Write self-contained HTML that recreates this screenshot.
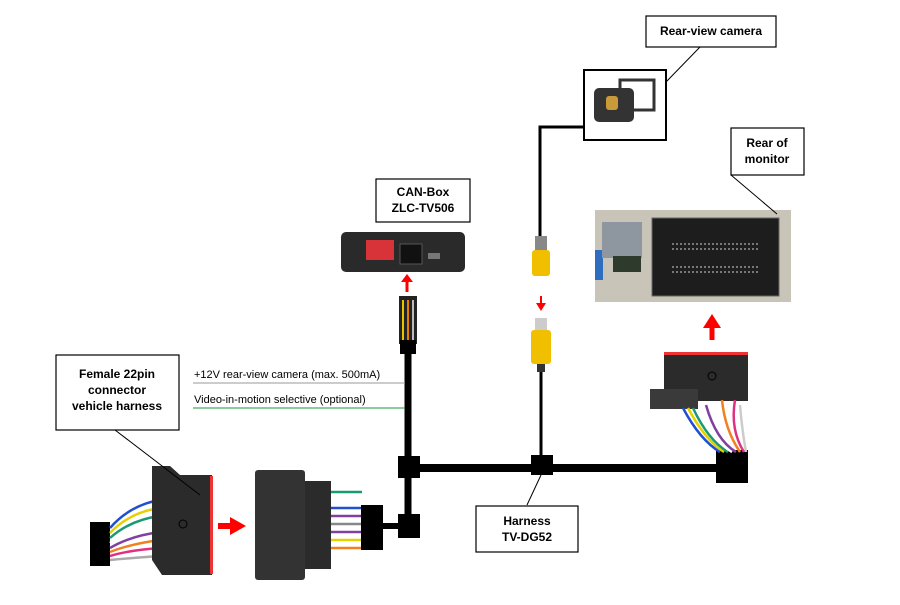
<!DOCTYPE html>
<html><head><style>
body{margin:0;background:#fff;width:900px;height:600px;overflow:hidden;font-family:"Liberation Sans",sans-serif}
</style></head><body>
<svg width="900" height="600" viewBox="0 0 900 600" xmlns="http://www.w3.org/2000/svg" font-family="Liberation Sans, sans-serif">
<!-- cables -->
<g stroke="#000" fill="none">
<path d="M403 468 H720" stroke-width="8"/>
<path d="M408 340 V530" stroke-width="7"/>
<path d="M380 526 H410" stroke-width="6"/>
<path d="M541 462 V372" stroke-width="3"/>
<path d="M584 127 H540 V240" stroke-width="3"/>
</g>
<rect x="398" y="456" width="22" height="22" fill="#000"/>
<rect x="398" y="514" width="22" height="24" fill="#000"/>
<rect x="531" y="455" width="22" height="20" fill="#000"/>
<rect x="716" y="450" width="32" height="33" fill="#000"/>
<!-- CAN box -->
<rect x="341" y="232" width="124" height="40" rx="5" fill="#2a2a2a"/>
<rect x="366" y="240" width="28" height="20" fill="#d9333a"/>
<rect x="400" y="244" width="22" height="20" fill="#111" stroke="#555"/>
<rect x="428" y="253" width="12" height="6" fill="#777"/>
<path d="M407 292 V281" stroke="#f00" stroke-width="3"/><path d="M401 282 L407 274 L413 282Z" fill="#f00"/>
<rect x="399" y="296" width="18" height="48" fill="#222"/>
<g stroke-width="2"><path d="M403 300V340" stroke="#e5c300"/><path d="M408 300V340" stroke="#e57e00"/><path d="M413 300V340" stroke="#bbb"/></g>
<rect x="400" y="340" width="16" height="14" fill="#000"/>
<!-- camera -->
<rect x="584" y="70" width="82" height="70" fill="#fff" stroke="#000" stroke-width="2"/>
<rect x="594" y="88" width="40" height="34" rx="5" fill="#333"/>
<rect x="606" y="96" width="12" height="14" rx="3" fill="#c89a3a"/>
<rect x="620" y="80" width="34" height="30" fill="none" stroke="#333" stroke-width="3"/>
<path d="M666 82 L700 47" stroke="#000"/>
<!-- RCA -->
<rect x="535" y="236" width="12" height="14" fill="#888"/>
<rect x="532" y="250" width="18" height="26" rx="3" fill="#f0c000"/>
<path d="M541 296 V304" stroke="#f00" stroke-width="2"/><path d="M536 303 L541 311 L546 303Z" fill="#f00"/>
<rect x="535" y="318" width="12" height="14" fill="#ccc"/>
<rect x="531" y="330" width="20" height="34" rx="3" fill="#f0c000"/>
<rect x="537" y="364" width="8" height="8" fill="#333"/>
<!-- monitor -->
<rect x="595" y="210" width="196" height="92" fill="#c9c4b8"/>
<rect x="595" y="250" width="8" height="30" fill="#2f6dc0"/>
<rect x="602" y="222" width="40" height="36" fill="#8e969f"/>
<rect x="613" y="256" width="28" height="16" fill="#2e3a2c"/>
<rect x="652" y="218" width="127" height="78" fill="#1d1d1d" stroke="#666"/>
<g fill="none" stroke="#777" stroke-dasharray="2 2" stroke-width="2"><path d="M672 244H760M672 249H760M672 267H760M672 272H760"/></g>
<path d="M731 175 L777 214" stroke="#000"/>
<path d="M712 340 V326" stroke="#f00" stroke-width="5"/><path d="M703 328 L712 314 L721 328Z" fill="#f00"/>
<!-- right connector -->
<rect x="664" y="352" width="84" height="4" fill="#e33"/>
<rect x="664" y="355" width="84" height="46" fill="#2b2b2b"/>
<rect x="650" y="389" width="48" height="20" fill="#3a3a3a"/>
<g stroke-width="2.5" fill="none">
<path d="M683 408 Q700 440 720 452" stroke="#2050d0"/><path d="M688 408 Q705 440 724 452" stroke="#e5d000"/>
<path d="M693 408 Q708 440 728 452" stroke="#1a9a70"/><path d="M700 408 Q712 440 732 452" stroke="#fff"/>
<path d="M706 405 Q716 440 736 452" stroke="#8040a0"/><path d="M722 400 Q725 430 740 452" stroke="#f08020"/>
<path d="M735 400 Q730 430 744 452" stroke="#e03080"/><path d="M740 405 Q742 430 746 452" stroke="#ccc"/>
</g>
<circle cx="712" cy="376" r="4" fill="none" stroke="#000"/>
<!-- left connectors -->
<rect x="90" y="522" width="20" height="44" fill="#000"/>
<g stroke-width="2.5" fill="none">
<path d="M110 528 Q130 505 160 500" stroke="#2050d0"/><path d="M110 533 Q130 512 160 508" stroke="#e5d000"/>
<path d="M110 538 Q130 520 160 516" stroke="#1a9a70"/><path d="M110 543 Q130 528 160 524" stroke="#fff"/>
<path d="M110 548 Q130 536 160 532" stroke="#8040a0"/><path d="M110 552 Q130 544 160 540" stroke="#f08020"/>
<path d="M110 556 Q130 550 160 548" stroke="#e03080"/><path d="M110 560 Q130 558 160 556" stroke="#aaa"/>
</g>
<path d="M152 466 H170 L180 475 H212 V575 H162 L152 560Z" fill="#2b2b2b"/>
<rect x="210" y="476" width="3" height="98" fill="#e33"/>
<circle cx="183" cy="524" r="4" fill="none" stroke="#000"/>
<path d="M218 526 H232" stroke="#f00" stroke-width="6"/><path d="M230 517 L246 526 L230 535Z" fill="#f00"/>
<rect x="255" y="470" width="50" height="110" rx="3" fill="#333"/>
<rect x="305" y="481" width="26" height="88" fill="#2b2b2b"/>
<g stroke-width="2.5"><path d="M331 492 H362" stroke="#1a9a70"/><path d="M331 500 H362" stroke="#fff"/><path d="M331 508 H362" stroke="#2050d0"/><path d="M331 516 H362" stroke="#8040a0"/><path d="M331 524 H362" stroke="#888"/><path d="M331 532 H362" stroke="#8040a0"/><path d="M331 540 H362" stroke="#e5d000"/><path d="M331 548 H362" stroke="#f08020"/></g>
<rect x="361" y="505" width="22" height="45" fill="#000"/>
<!-- label lines -->
<path d="M115 430 L200 495" stroke="#000"/>
<path d="M527 505 L541 475" stroke="#000"/>
<path d="M193 383 H405" stroke="#999"/>
<path d="M193 408 H405" stroke="#1a9a3a"/>
<text x="194" y="378" font-size="11">+12V rear-view camera  (max. 500mA)</text>
<text x="194" y="403" font-size="11">Video-in-motion  selective (optional)</text>
<!-- label boxes -->
<g fill="#fff" stroke="#000" stroke-width="1.2">
<rect x="646" y="16" width="130" height="31"/><rect x="731" y="128" width="73" height="47"/>
<rect x="376" y="179" width="94" height="43"/><rect x="56" y="355" width="123" height="75"/>
<rect x="476" y="506" width="102" height="46"/>
</g>
<g font-size="12" font-weight="bold" text-anchor="middle">
<text x="711" y="35">Rear-view camera</text>
<text x="767" y="147">Rear of</text><text x="767" y="163">monitor</text>
<text x="423" y="196">CAN-Box</text><text x="423" y="212">ZLC-TV506</text>
<text x="117" y="378">Female 22pin</text><text x="117" y="394">connector</text><text x="117" y="410">vehicle harness</text>
<text x="527" y="525">Harness</text><text x="527" y="541">TV-DG52</text>
</g>
</svg>
</body></html>
